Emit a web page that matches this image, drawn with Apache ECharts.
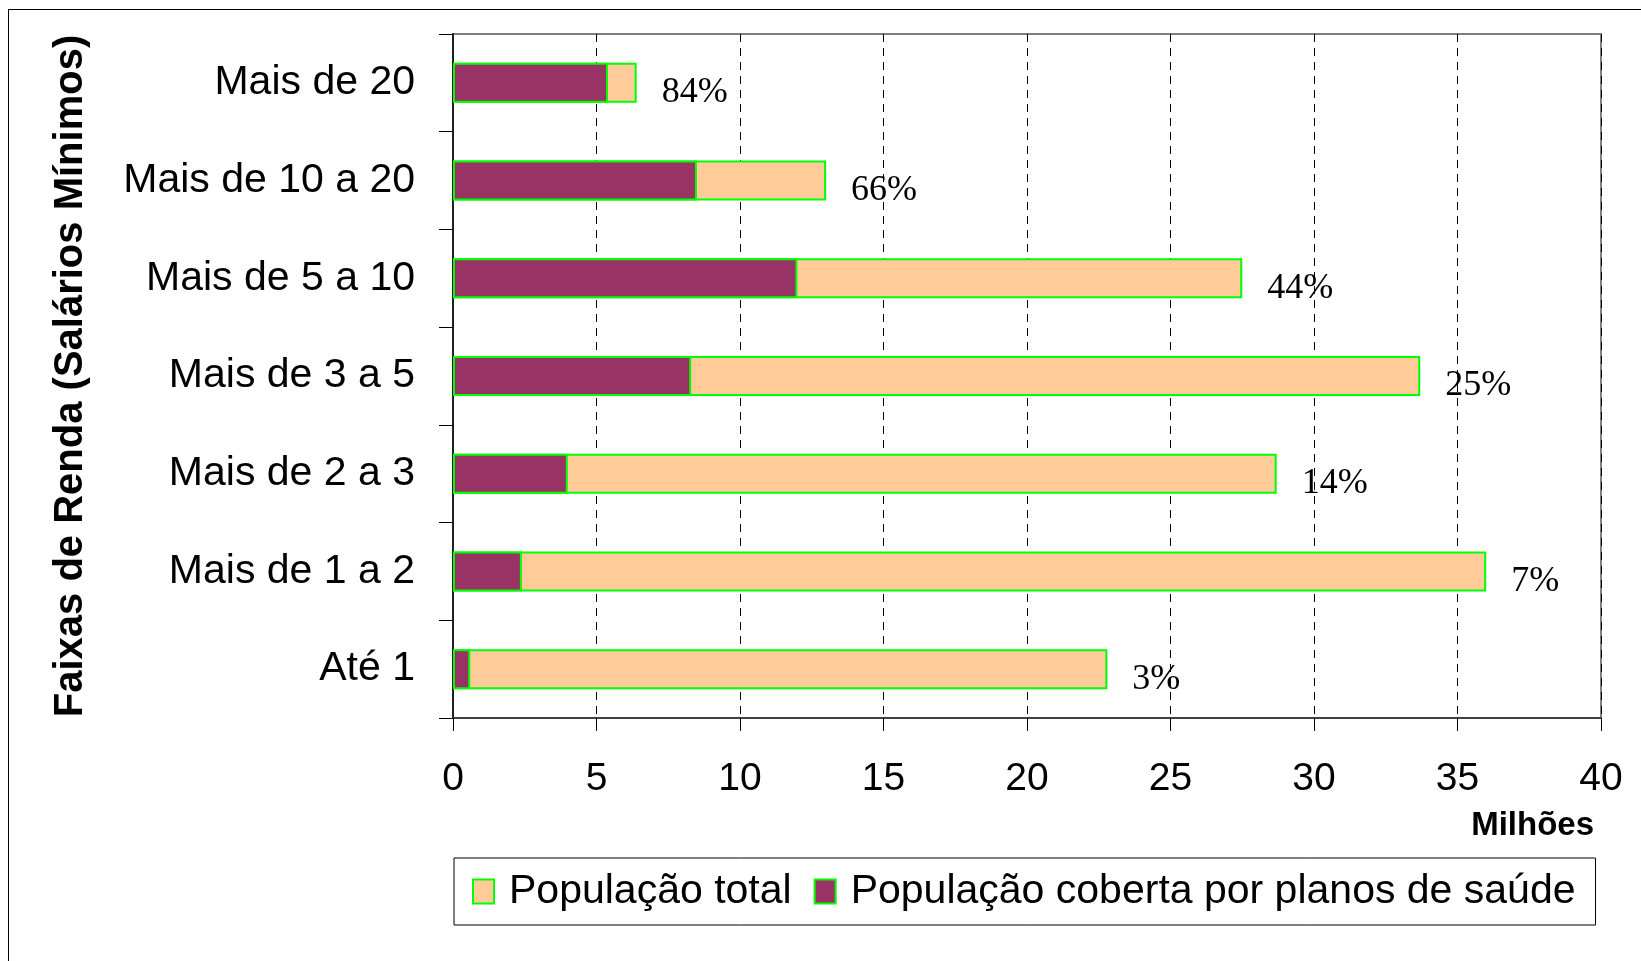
<!DOCTYPE html>
<html>
<head>
<meta charset="utf-8">
<script src="https://cdn.jsdelivr.net/npm/echarts@6/dist/echarts.min.js"></script>
<style>
html, body { margin: 0; padding: 0; background: #fff; overflow: hidden; }
#frame { position: absolute; left: 8px; top: 9px; width: 1700px; height: 1000px; border: 1px solid #000; }
#main { position: absolute; left: 0; top: 0; width: 1641px; height: 961px; }
</style>
</head>
<body>
<div id="frame"></div>
<div id="main"></div>
<script>
// faixas de renda, de baixo para cima
var faixas = ['Até 1', 'Mais de 1 a 2', 'Mais de 2 a 3', 'Mais de 3 a 5', 'Mais de 5 a 10', 'Mais de 10 a 20', 'Mais de 20'];
var popTotal = [22.8, 36.0, 28.7, 33.7, 27.5, 13.0, 6.4];
var popCoberta = [0.6, 2.4, 4.0, 8.3, 12.0, 8.5, 5.4];
var percentuais = ['3%', '7%', '14%', '25%', '44%', '66%', '84%'];
var xTicks = [0, 5, 10, 15, 20, 25, 30, 35, 40];

var myChart = echarts.init(document.getElementById('main'));
var option = {
    animation: false,
    textStyle: { fontFamily: 'Liberation Sans, Arial, sans-serif', color: '#000' },
    title: {
        text: 'Milhões',
        right: 42,
        top: 804,
        textStyle: { fontSize: 33, fontWeight: 'bold', color: '#000', fontFamily: 'Liberation Sans, Arial, sans-serif' }
    },
    legend: {
        left: 454,
        top: 858,
        padding: [13, 20, 13, 18],
        borderColor: '#000',
        borderWidth: 1,
        itemGap: 22,
        itemWidth: 21,
        itemHeight: 24,
        icon: 'rect',
        textStyle: { fontSize: 41, color: '#000', padding: [0, 0, 0, 10] },
        data: ['População total', 'População coberta por planos de saúde']
    },
    grid: {
        left: 453,
        right: 40,
        top: 34,
        bottom: 243,
        show: true,
        borderColor: '#808080',
        borderWidth: 2
    },
    xAxis: {
        type: 'value',
        min: xTicks[0],
        max: xTicks[xTicks.length - 1],
        interval: 5,
        axisLine: { show: true, lineStyle: { color: '#404040', width: 2 } },
        axisTick: { show: true, length: 13, lineStyle: { color: '#000', width: 1 } },
        axisLabel: { fontSize: 39, color: '#000', margin: 42 },
        splitLine: { show: true, lineStyle: { color: '#000', width: 1, type: [8, 6] } }
    },
    yAxis: {
        type: 'category',
        data: faixas,
        name: 'Faixas de Renda (Salários Mínimos)',
        nameLocation: 'middle',
        nameRotate: 90,
        nameGap: 362,
        nameTextStyle: { fontSize: 40, fontWeight: 'bold', color: '#000' },
        axisLine: { show: true, lineStyle: { color: '#202020', width: 2 } },
        axisTick: { show: true, length: 14, alignWithLabel: false, lineStyle: { color: '#000', width: 1 } },
        axisLabel: { fontSize: 41, color: '#000', margin: 38 }
    },
    series: [
        {
            name: 'População total',
            type: 'bar',
            barWidth: 40,
            barGap: '-100%',
            z: 2,
            itemStyle: { color: '#FFCC99', borderColor: '#00FF00', borderWidth: 2 },
            label: {
                show: true,
                position: 'right',
                distance: 25,
                offset: [0, 10],
                fontFamily: 'Liberation Serif, Times New Roman, serif',
                fontSize: 36,
                color: '#000',
                formatter: function (p) { return percentuais[p.dataIndex]; }
            },
            data: popTotal
        },
        {
            name: 'População coberta por planos de saúde',
            type: 'bar',
            barWidth: 40,
            barGap: '-100%',
            z: 3,
            itemStyle: { color: '#993366', borderColor: '#00FF00', borderWidth: 2 },
            data: popCoberta
        }
    ]
};
myChart.setOption(option);
</script>
</body>
</html>
